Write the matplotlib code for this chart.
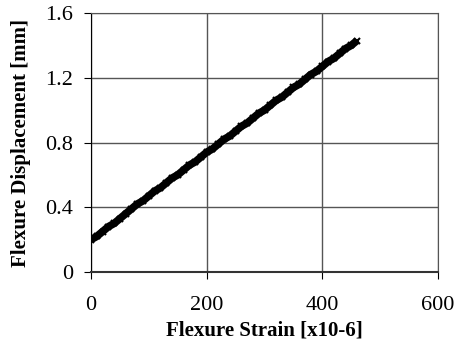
import matplotlib.pyplot as plt
import numpy as np

# flexure strain [x10-6] vs flexure displacement [mm]
strain = [0, 10, 20, 30, 40, 50, 60, 70, 80, 90, 100, 110, 120, 130, 140, 150,
          160, 170, 180, 190, 200, 210, 220, 230, 240, 250, 260, 270, 280, 290,
          300, 310, 320, 330, 340, 350, 360, 370, 380, 390, 400, 410, 420, 430,
          440, 450, 460]
displacement = [0.20, 0.22, 0.25, 0.28, 0.30, 0.33, 0.36, 0.39, 0.42, 0.44,
                0.47, 0.50, 0.52, 0.55, 0.58, 0.60, 0.63, 0.66, 0.68, 0.71,
                0.74, 0.76, 0.79, 0.82, 0.84, 0.87, 0.90, 0.92, 0.95, 0.98,
                1.00, 1.03, 1.06, 1.08, 1.11, 1.14, 1.16, 1.19, 1.22, 1.24,
                1.27, 1.30, 1.32, 1.35, 1.38, 1.40, 1.43]

xticks = [0, 200, 400, 600]
yticks = [0, 0.4, 0.8, 1.2, 1.6]
ylabels = ["0", "0.4", "0.8", "1.2", "1.6"]

plt.rcParams['font.family'] = ['Liberation Serif', 'DejaVu Serif']

fig = plt.figure(figsize=(4.56, 3.48), dpi=100)
ax = fig.add_axes([0.1996, 0.2184, 0.7609, 0.7442])

ax.plot(strain, displacement, color='black', linewidth=5.5, solid_capstyle='butt',
        marker='x', markersize=4, markeredgewidth=1.5)

ax.set_xlim(0, 600)
ax.set_ylim(0, 1.6)
ax.set_xticks(xticks)
ax.set_xticklabels([str(v) for v in xticks])
ax.set_yticks(yticks)
ax.set_yticklabels(ylabels)
ax.grid(True, color='#555555', linewidth=1)
ax.set_axisbelow(True)

for side in ['top', 'right']:
    ax.spines[side].set_color('#555555')
ax.spines['left'].set_color('black')
ax.spines['bottom'].set_color('#333333')
ax.spines['bottom'].set_linewidth(1.5)

ax.tick_params(axis='x', direction='out', length=5, pad=12, labelsize=16)
ax.tick_params(axis='y', direction='out', length=5, pad=8, labelsize=16)

ax.set_xlabel("Flexure Strain [x10-6]", fontsize=15, fontweight='bold', labelpad=4)
ax.set_ylabel("Flexure Displacement [mm]", fontsize=15, fontweight='bold', labelpad=10)

plt.savefig("out.png", dpi=100)
